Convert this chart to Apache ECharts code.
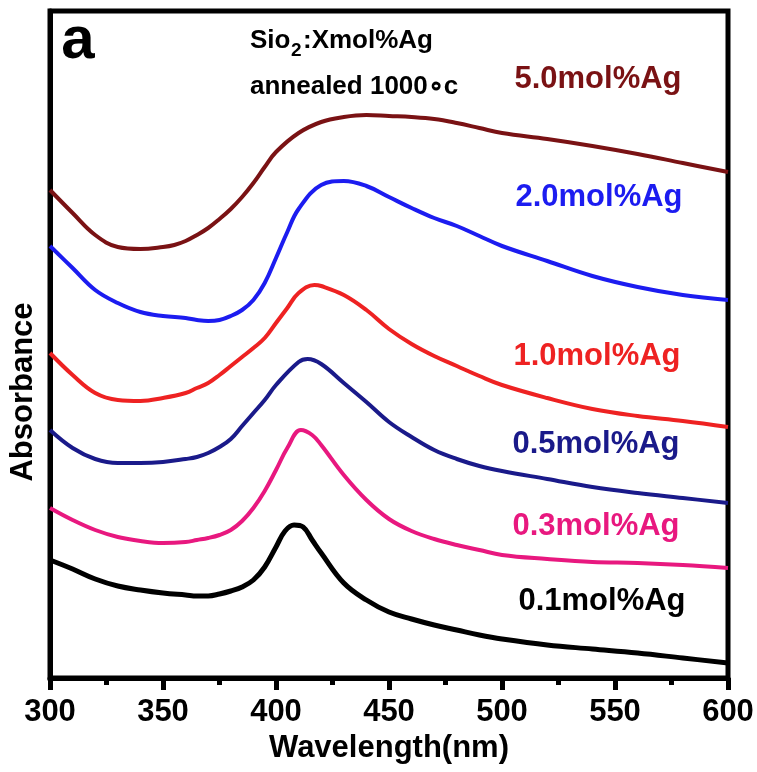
<!DOCTYPE html>
<html>
<head>
<meta charset="utf-8">
<script src="https://cdn.jsdelivr.net/npm/echarts@6/dist/echarts.min.js"></script>
<style>
html,body{margin:0;padding:0;background:#fff;}
#chart{width:757px;height:772px;}
</style>
</head>
<body>
<div id="chart"></div>
<script>
// Wavelength (nm) and absorbance (arb. units)
const wl_5_0 = [300,310,320,330,340,350,355,360,365,370,375,380,385,390,395,400,410,420,430,440,450,460,470,480,490,500,520,540,560,580,600];
const abs_5_0 = [4.88,4.65,4.43,4.31,4.29,4.31,4.33,4.37,4.43,4.50,4.59,4.69,4.81,4.95,5.11,5.26,5.45,5.56,5.61,5.63,5.62,5.61,5.59,5.55,5.50,5.45,5.39,5.32,5.24,5.15,5.06];

const wl_2_0 = [300,310,320,330,340,350,360,365,370,375,380,385,390,395,400,405,410,420,430,440,450,460,470,480,490,500,520,540,560,580,600];
const abs_2_0 = [4.32,4.10,3.88,3.75,3.66,3.62,3.60,3.58,3.57,3.58,3.62,3.68,3.78,3.95,4.20,4.46,4.69,4.93,4.97,4.92,4.81,4.70,4.60,4.52,4.42,4.32,4.17,4.02,3.91,3.83,3.78];

const wl_1_0 = [300,310,320,330,340,350,360,365,370,375,380,385,390,395,400,405,410,417,420,430,440,450,460,470,480,490,500,520,540,560,580,600];
const abs_1_0 = [3.25,3.03,2.85,2.78,2.77,2.80,2.85,2.90,2.95,3.03,3.12,3.21,3.30,3.40,3.55,3.70,3.85,3.93,3.92,3.83,3.68,3.49,3.34,3.22,3.12,3.02,2.93,2.80,2.69,2.62,2.57,2.51];

const wl_0_5 = [300,310,320,330,340,350,360,365,370,375,380,385,390,395,400,410,414,420,430,440,450,460,470,480,490,500,520,540,560,580,600];
const abs_0_5 = [2.48,2.30,2.19,2.15,2.15,2.16,2.19,2.21,2.25,2.31,2.39,2.52,2.65,2.78,2.93,3.16,3.19,3.14,2.95,2.76,2.56,2.41,2.28,2.19,2.12,2.07,1.99,1.91,1.85,1.80,1.75];

const wl_0_3 = [300,310,320,330,340,350,360,365,370,375,380,385,390,395,400,405,411,416,420,430,440,450,460,470,480,490,500,520,540,560,580,600];
const abs_0_3 = [1.70,1.58,1.48,1.41,1.37,1.35,1.36,1.38,1.40,1.43,1.48,1.57,1.70,1.87,2.08,2.30,2.48,2.43,2.33,2.03,1.78,1.59,1.47,1.39,1.33,1.28,1.23,1.19,1.16,1.15,1.13,1.10];

const wl_0_1 = [300,310,320,330,340,350,360,365,370,375,380,385,390,395,400,404,408,412,416,420,430,440,450,460,470,480,490,500,520,540,560,580,600];
const abs_0_1 = [1.18,1.09,0.99,0.92,0.88,0.85,0.83,0.82,0.82,0.84,0.87,0.91,0.98,1.11,1.31,1.47,1.53,1.51,1.38,1.25,0.95,0.78,0.66,0.59,0.53,0.48,0.43,0.39,0.33,0.29,0.25,0.20,0.15];

const seriesNames = ['5.0mol%Ag','2.0mol%Ag','1.0mol%Ag','0.5mol%Ag','0.3mol%Ag','0.1mol%Ag'];
const seriesWl = [wl_5_0, wl_2_0, wl_1_0, wl_0_5, wl_0_3, wl_0_1];
const seriesAbs = [abs_5_0, abs_2_0, abs_1_0, abs_0_5, abs_0_3, abs_0_1];
const seriesColors = ['#7a1214','#1c1cf0','#ee2222','#1a1a8a','#e8187f','#000000'];
const seriesWidths = [4,4,4,4,4,5];

const xTicks = [300,350,400,450,500,550,600];

const FONT = '"Liberation Sans", Arial, sans-serif';

// label placement (styling only)
const labelPos = [[598,79],[599,197],[597,356],[596,444],[596,526],[602,601]];

const chart = echarts.init(document.getElementById('chart'), null, {renderer:'canvas'});

const series = seriesNames.map((name, i) => ({
  name: name,
  type: 'line',
  data: seriesWl[i].map((w, j) => [w, seriesAbs[i][j]]),
  showSymbol: false,
  smooth: 0.4,
  lineStyle: {color: seriesColors[i], width: seriesWidths[i]},
  itemStyle: {color: seriesColors[i]},
  z: 3
}));

const graphic = [
  {type:'text', x:78, y:41, style:{text:'a', font:'bold 60px ' + FONT, fill:'#000', textAlign:'center', textVerticalAlign:'middle'}},
  {type:'text', x:250, y:41, style:{text:'Sio', font:'bold 26px ' + FONT, fill:'#000', textAlign:'left', textVerticalAlign:'middle'}},
  {type:'text', x:291, y:51, style:{text:'2', font:'bold 19px ' + FONT, fill:'#000', textAlign:'left', textVerticalAlign:'middle'}},
  {type:'text', x:303, y:41, style:{text:':Xmol%Ag', font:'bold 26px ' + FONT, fill:'#000', textAlign:'left', textVerticalAlign:'middle'}},
  {type:'text', x:250, y:87, style:{text:'annealed 1000\u2218c', font:'bold 26px ' + FONT, fill:'#000', textAlign:'left', textVerticalAlign:'middle'}},
  {type:'text', x:23, y:392, rotation:Math.PI/2, style:{text:'Absorbance', font:'bold 31px ' + FONT, fill:'#000', textAlign:'center', textVerticalAlign:'middle'}}
].concat(seriesNames.map((n, i) => ({
  type:'text', x: labelPos[i][0], y: labelPos[i][1],
  style:{text:n, font:'bold 31px ' + FONT, fill: seriesColors[i], textAlign:'center', textVerticalAlign:'middle'}
})));

chart.setOption({
  animation: false,
  backgroundColor: '#fff',
  grid: {left:50, right:29, top:11, bottom:94, show:true, borderColor:'#000', borderWidth:5, backgroundColor:'transparent'},
  xAxis: {
    type:'value', min:xTicks[0], max:xTicks[xTicks.length-1], interval:50,
    name:'Wavelength(nm)', nameLocation:'middle', nameGap:53,
    nameTextStyle:{fontFamily:FONT, fontWeight:'bold', fontSize:31, color:'#000'},
    axisLine:{show:true, lineStyle:{color:'#000', width:5}},
    axisTick:{show:true, inside:false, length:12, lineStyle:{color:'#000', width:5}},
    minorTick:{show:true, splitNumber:2, length:7, lineStyle:{color:'#000', width:5}},
    splitLine:{show:false},
    axisLabel:{fontFamily:FONT, fontWeight:'bold', fontSize:31, color:'#000', margin:19}
  },
  yAxis: {
    type:'value', min:0, max:6.67,
    axisLine:{show:true, lineStyle:{color:'#000', width:5}},
    axisTick:{show:false}, axisLabel:{show:false}, splitLine:{show:false}
  },
  series: series,
  graphic: graphic
});
</script>
</body>
</html>
